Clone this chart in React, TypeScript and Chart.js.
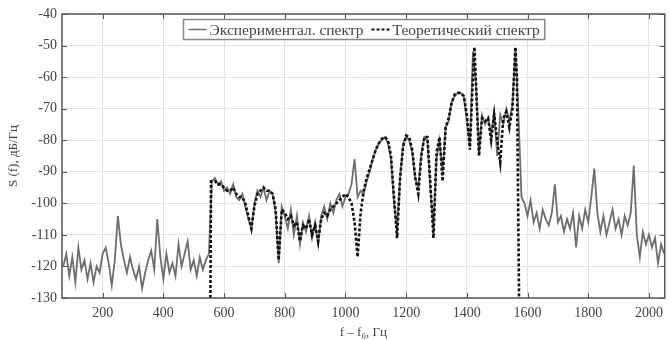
import React, { useEffect, useRef } from "react";
import { Chart, registerables } from "chart.js";

Chart.register(...registerables);

const X_MIN = 66;
const X_MAX = 2052;
const Y_MIN = -130;
const Y_MAX = -40;
const xTickValues = [200, 400, 600, 800, 1000, 1200, 1400, 1600, 1800, 2000];
const yTickValues = [-130, -120, -110, -100, -90, -80, -70, -60, -50, -40];

const legendLabels = ["Экспериментал. спектр", "Теоретический спектр"];
const xTitle = "f – f₀, Гц";
const yTitle = "S (f), дБ/Гц";

// experimental spectrum, sampled every 10 Hz starting at 70 Hz
const EXP_START = 70;
const EXP_STEP = 10;
const expValues = [
  -120, -116, -123, -117, -125, -114, -121, -118, -124,
  -119, -125, -120, -122, -116, -114, -119, -126, -118, -104,
  -113, -118, -122, -117, -121, -124, -120, -127, -122, -118,
  -115, -121, -105, -117, -124, -116, -122, -119, -123, -113,
  -120, -116, -112, -121, -118, -123, -117, -121, -118, -116,
  -93, -92, -94, -93, -96, -95, -97, -94, -98, -99,
  -97, -101, -105, -108, -100, -96, -98, -95, -99, -96,
  -97, -103, -119, -101, -104, -108, -102, -110, -104, -113,
  -106, -109, -104, -111, -106, -113, -104, -101, -105, -100,
  -103, -99, -97, -101, -98, -97, -94, -86, -98, -96,
  -97, -93, -90, -86, -83, -81, -80, -79, -81, -86,
  -100, -108, -92, -81, -79, -80, -84, -92, -95, -84,
  -79, -80, -96, -108, -86, -80, -90, -76, -74, -68,
  -66, -65, -65, -66, -74, -82, -52, -62, -84, -72,
  -75, -73, -78, -71, -85, -72, -75, -70, -74, -69,
  -51, -72, -98, -100, -104, -99, -106, -103, -108, -102,
  -105, -107, -103, -94, -106, -104, -109, -105, -108, -103,
  -114, -104, -108, -102, -106, -98, -89, -103, -109, -104,
  -110, -106, -102, -108, -105, -110, -104, -107, -103, -88,
  -110, -117, -109, -113, -110, -114, -111, -119, -113, -116,
];

// theoretical spectrum
const thFreq = [
  555, 557, 560, 570, 580, 590, 600, 610, 620, 630, 640, 650,
  660, 670, 680, 690, 700, 710, 720, 730, 740, 750,
  760, 770, 780, 790, 800, 810, 820, 830, 840, 850,
  860, 870, 880, 890, 900, 910, 920, 930, 940, 950,
  960, 970, 980, 990, 1000, 1010, 1020, 1030, 1040, 1050,
  1060, 1070, 1080, 1090, 1100, 1110, 1120, 1130, 1140, 1150,
  1160, 1170, 1180, 1190, 1200, 1210, 1220, 1230, 1240, 1250,
  1260, 1270, 1280, 1290, 1300, 1310, 1320, 1330, 1340, 1350,
  1360, 1370, 1380, 1390, 1400, 1410, 1420, 1425, 1430, 1440, 1450,
  1460, 1470, 1480, 1490, 1500, 1510, 1520, 1530, 1540, 1550,
  1560, 1565, 1572,
];
const thValues = [
  -130, -93, -93, -93, -94, -94, -95, -96, -96, -95, -97, -98,
  -98, -100, -104, -108, -101, -97, -96, -95, -96, -96,
  -97, -102, -118, -102, -103, -105, -104, -107, -106, -112,
  -107, -108, -105, -110, -107, -112, -105, -103, -104, -102,
  -101, -100, -99, -98, -97, -98, -100, -106, -117, -103,
  -96, -92, -89, -86, -83, -81, -79.5, -79, -80, -85,
  -98, -111, -92, -82, -78.5, -79, -83, -92, -97, -85,
  -79, -79, -94, -111, -84, -79, -93, -76, -73, -68,
  -65.5, -65, -65, -66, -72, -83, -60, -50.5, -62, -85, -73,
  -74, -73, -80, -72, -80, -87, -73, -71, -76, -70,
  -50.5, -60, -130,
];

const FONT = '"Liberation Serif", "Times New Roman", serif';
const TEXT_COLOR = "#444";

const framePlugin = {
  id: "frame",
  afterDraw(chart: any) {
    const { ctx, chartArea: a, scales } = chart;
    ctx.save();
    // inner ticks
    ctx.strokeStyle = "#555";
    ctx.lineWidth = 1;
    ctx.setLineDash([]);
    for (const v of xTickValues) {
      const px = Math.round(scales.x.getPixelForValue(v)) + 0.5;
      ctx.beginPath();
      ctx.moveTo(px, a.bottom);
      ctx.lineTo(px, a.bottom - 5);
      ctx.moveTo(px, a.top);
      ctx.lineTo(px, a.top + 5);
      ctx.stroke();
    }
    for (const v of yTickValues) {
      const py = Math.round(scales.y.getPixelForValue(v)) + 0.5;
      ctx.beginPath();
      ctx.moveTo(a.left, py);
      ctx.lineTo(a.left + 5, py);
      ctx.moveTo(a.right, py);
      ctx.lineTo(a.right - 5, py);
      ctx.stroke();
    }
    // frame
    ctx.strokeStyle = "#555";
    ctx.lineWidth = 1.5;
    ctx.strokeRect(a.left, a.top, a.right - a.left, a.bottom - a.top);

    // legend
    ctx.font = "15.5px " + FONT;
    const sample = 18;
    const gap = 3;
    const between = 8;
    const pad = 5;
    const w1 = ctx.measureText(legendLabels[0]).width;
    const w2 = ctx.measureText(legendLabels[1]).width;
    const total = pad + sample + gap + w1 + between + sample + gap + w2 + pad;
    const cx = (a.left + a.right) / 2;
    const bx = Math.round(cx - total / 2) + 0.5;
    const by = a.top + 5.5;
    const bh = 20;
    ctx.fillStyle = "#fff";
    ctx.fillRect(bx, by, total, bh);
    ctx.strokeStyle = "#888";
    ctx.lineWidth = 1.5;
    ctx.strokeRect(bx, by, total, bh);
    const ly = by + bh / 2;
    let x = bx + pad;
    ctx.strokeStyle = "#6e6e6e";
    ctx.lineWidth = 1.5;
    ctx.beginPath();
    ctx.moveTo(x, ly);
    ctx.lineTo(x + sample, ly);
    ctx.stroke();
    x += sample + gap;
    ctx.fillStyle = TEXT_COLOR;
    ctx.textBaseline = "middle";
    ctx.textAlign = "left";
    ctx.fillText(legendLabels[0], x, ly + 1);
    x += w1 + between;
    ctx.strokeStyle = "#111";
    ctx.lineWidth = 2;
    ctx.setLineDash([3, 2]);
    ctx.beginPath();
    ctx.moveTo(x, ly);
    ctx.lineTo(x + sample, ly);
    ctx.stroke();
    ctx.setLineDash([]);
    x += sample + gap;
    ctx.fillText(legendLabels[1], x, ly + 1);
    ctx.restore();
  },
};

export default function App() {
  const canvasRef = useRef<HTMLCanvasElement | null>(null);

  useEffect(() => {
    const canvas = canvasRef.current;
    if (!canvas) return;
    const expData = expValues.map((v, i) => ({ x: EXP_START + i * EXP_STEP, y: v }));
    const thData = thValues.map((v, i) => ({ x: thFreq[i], y: v }));

    const chart = new Chart(canvas, {
      type: "line",
      data: {
        datasets: [
          {
            label: legendLabels[0],
            data: expData,
            borderColor: "#6e6e6e",
            borderWidth: 1.8,
            pointRadius: 0,
            tension: 0,
            fill: false,
            order: 1,
          },
          {
            label: legendLabels[1],
            data: thData,
            borderColor: "#111",
            borderWidth: 2.6,
            borderDash: [3, 2],
            pointRadius: 0,
            tension: 0,
            fill: false,
            order: 0,
          },
        ],
      },
      options: {
        animation: false,
        responsive: false,
        devicePixelRatio: 1,
        parsing: false as any,
        layout: { padding: { top: 14, right: 2, left: 0, bottom: 0 } },
        plugins: {
          legend: { display: false },
          tooltip: { enabled: false },
        },
        scales: {
          x: {
            type: "linear",
            min: X_MIN,
            max: X_MAX,
            afterBuildTicks: (scale: any) => {
              scale.ticks = xTickValues.map((v) => ({ value: v }));
            },
            afterFit: (scale: any) => {
              scale.height = 42;
            },
            grid: { color: "#e2e2e2", lineWidth: 1, drawTicks: false },
            border: { display: false },
            ticks: {
              padding: 7,
              color: TEXT_COLOR,
              font: { family: FONT, size: 14 },
              maxRotation: 0,
              autoSkip: false,
              callback: (v: any) => String(v),
            },
            title: {
              display: true,
              text: xTitle,
              color: TEXT_COLOR,
              font: { family: FONT, size: 13 },
              padding: { top: 2, bottom: 0 },
            },
          },
          y: {
            type: "linear",
            min: Y_MIN,
            max: Y_MAX,
            afterBuildTicks: (scale: any) => {
              scale.ticks = yTickValues.map((v) => ({ value: v }));
            },
            afterFit: (scale: any) => {
              scale.width = 62;
            },
            grid: { color: "#e2e2e2", lineWidth: 1, drawTicks: false },
            border: { display: false },
            ticks: {
              padding: 5,
              color: TEXT_COLOR,
              font: { family: FONT, size: 14 },
              autoSkip: false,
              callback: (v: any) => String(v),
            },
            title: {
              display: true,
              text: yTitle,
              color: TEXT_COLOR,
              font: { family: FONT, size: 13 },
              padding: { top: 6, bottom: 0 },
            },
          },
        },
      },
      plugins: [framePlugin],
    });
    return () => chart.destroy();
  }, []);

  return (
    <div style={{ position: "absolute", left: 0, top: 0, width: 670, height: 340, background: "#fff" }}>
      <canvas ref={canvasRef} width={670} height={340} style={{ display: "block" }} />
    </div>
  );
}
